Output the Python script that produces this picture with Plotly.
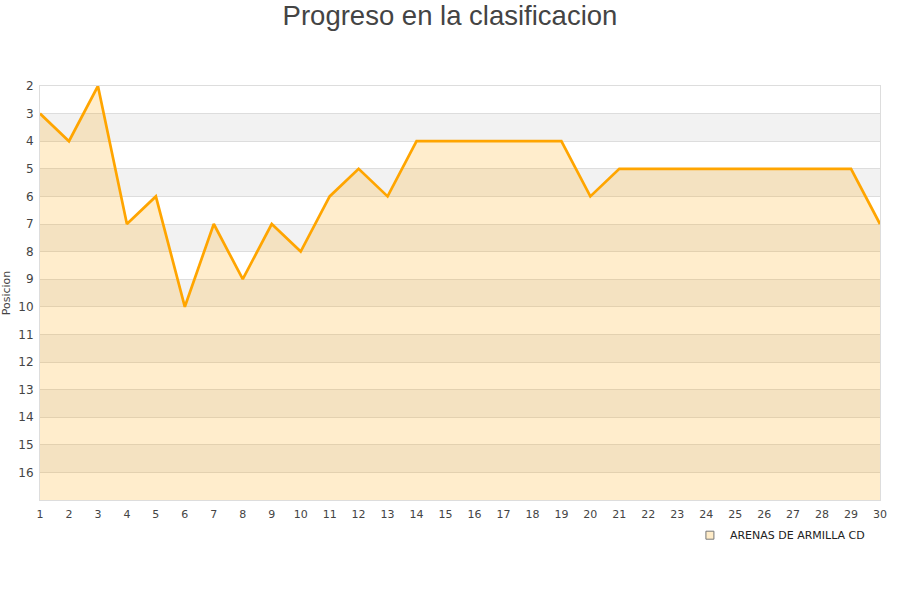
import plotly.graph_objects as go

jornadas = list(range(1, 31))
posiciones = [3, 4, 2, 7, 6, 10, 7, 9, 7, 8, 6, 5, 6, 4, 4, 4, 4, 4, 4, 6,
              5, 5, 5, 5, 5, 5, 5, 5, 5, 7]
y_ticks = list(range(2, 17))
equipo = "ARENAS DE ARMILLA CD"

_LINE = "#ffa500"
_FILL = "rgba(255,165,0,0.2)"
_BAND = "#f2f2f2"
_GRID = "#dddddd"
_TEXT = "#444444"

fig = go.Figure()

# baseline at the bottom of the reversed axis so the fill goes down
fig.add_trace(
    go.Scatter(
        x=jornadas,
        y=[17] * len(jornadas),
        mode="lines",
        line={"width": 0, "color": "rgba(0,0,0,0)"},
        showlegend=False,
        hoverinfo="skip",
    )
)
fig.add_trace(
    go.Scatter(
        x=jornadas,
        y=posiciones,
        mode="lines",
        name=equipo,
        line={"color": _LINE, "width": 2.7},
        fill="tonexty",
        fillcolor=_FILL,
        showlegend=False,
    )
)
# legend entry: small square
fig.add_trace(
    go.Scatter(
        x=[None],
        y=[None],
        mode="markers",
        name=equipo,
        marker={"symbol": "square", "size": 8, "color": "#ffecc8",
                "line": {"color": "#777777", "width": 1}},
        showlegend=True,
    )
)

# alternating horizontal bands
shapes = []
for start in range(3, 17, 2):
    shapes.append({
        "type": "rect", "xref": "paper", "yref": "y",
        "x0": 0, "x1": 1, "y0": start, "y1": start + 1,
        "fillcolor": _BAND, "line": {"width": 0}, "layer": "below",
    })

fig.update_layout(
    width=900,
    height=600,
    paper_bgcolor="white",
    plot_bgcolor="white",
    shapes=shapes,
    title={
        "text": "Progreso en la clasificacion",
        "x": 0.5, "xanchor": "center", "xref": "container",
        "y": 0.975, "yanchor": "middle",
        "font": {"family": "Liberation Sans, Arial", "size": 27.5, "color": _TEXT},
    },
    font={"family": "DejaVu Sans", "size": 11, "color": _TEXT},
    margin={"l": 40, "r": 20, "t": 86, "b": 100},
    xaxis={
        "range": [1, 30],
        "tickvals": jornadas,
        "showgrid": False,
        "zeroline": False,
        "showline": True,
        "linecolor": _GRID,
        "mirror": True,
        "ticks": "",
        "ticklabelstandoff": 4,
        "automargin": False,
        "tickfont": {"size": 11, "color": _TEXT},
    },
    yaxis={
        "range": [17, 2],
        "tickvals": y_ticks,
        "showgrid": True,
        "gridcolor": _GRID,
        "zeroline": False,
        "showline": True,
        "linecolor": _GRID,
        "mirror": True,
        "ticks": "",
        "ticklabelstandoff": 3,
        "automargin": False,
        "tickfont": {"size": 12, "color": _TEXT},
        "title": {"text": "Posicion", "font": {"size": 11, "color": _TEXT},
                  "standoff": 6},
    },
    legend={
        "x": 0.988, "xanchor": "right", "y": -0.050, "yanchor": "top",
        "font": {"size": 11, "color": "#222222"},
        "bgcolor": "rgba(0,0,0,0)",
    },
    showlegend=True,
)

# drop the default page margin so the figure sits at the window's corner
fig.write_html(
    "out.html",
    config={"displayModeBar": False},
    post_script="document.body.style.margin = '0px';",
)
